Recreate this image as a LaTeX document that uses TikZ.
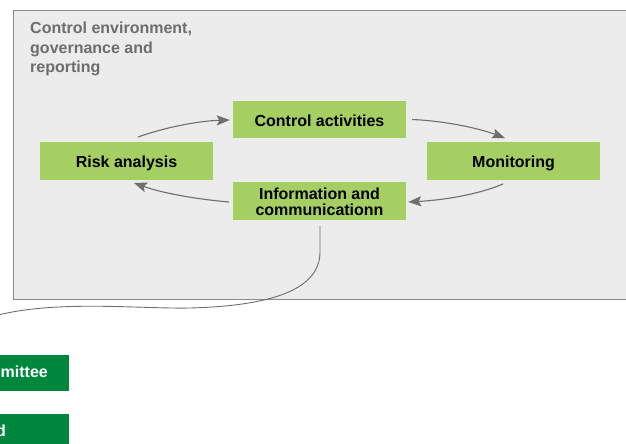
\documentclass[tikz,border=0pt]{standalone}
\usepackage{fontspec}
\setmainfont{Liberation Sans}
\usetikzlibrary{arrows.meta}
\definecolor{lgreen}{HTML}{A5CF63}
\definecolor{dgreen}{HTML}{00873E}
\definecolor{bggray}{HTML}{ECECEC}
\definecolor{bordergray}{HTML}{8A8A8A}
\definecolor{arrowgray}{HTML}{6E6E73}
\definecolor{titlegray}{HTML}{6D6D6D}
\tikzset{
  greenbox/.style={fill=lgreen, draw=none, minimum width=173pt, minimum height=37.5pt,
    inner sep=0pt, align=center, font=\fontsize{16}{15}\selectfont\bfseries, text=black},
  onelinetext/.style={text height=13pt, text depth=0pt},
  boxtext/.style={inner sep=0pt, align=center, font=\fontsize{16}{16}\selectfont\bfseries, text=black},
  titletext/.style={inner sep=0pt, font=\fontsize{16}{19}\selectfont\bfseries, text=titlegray},
  whitetext/.style={inner sep=0pt, font=\fontsize{16}{19}\selectfont\bfseries, text=white},
  cyclearrow/.style={draw=arrowgray, line width=1.1pt,
    -{Stealth[length=13pt,width=10pt,inset=2.5pt]}},
  linkline/.style={draw=arrowgray, line width=0.9pt}
}
\begin{document}
\begin{tikzpicture}[x=1pt,y=-1pt]
\useasboundingbox (0,0) rectangle (626,444);
\clip (0,0) rectangle (626,444);
% background panel
\draw[fill=bggray, draw=bordergray, line width=1pt] (13,11) rectangle (640,299);
% title
\node[titletext, anchor=base west] (t1) at (30,34) {Control environment,};
\node[titletext, anchor=base west] (t2) at (30,53) {governance and};
\node[titletext, anchor=base west] (t3) at (30,72) {reporting};
% cycle boxes
\node[greenbox, onelinetext] (ctrl) at (319.5,119.5) {Control activities};
\node[greenbox, onelinetext] (risk) at (126.5,161) {Risk analysis};
\node[greenbox, onelinetext] (mon) at (513.5,161) {Monitoring};
\node[greenbox] (info) at (319.5,201) {};
\node[boxtext, anchor=base] (infot) at (319.5,215.8) {Information and\\communicationn};
% arrows
\draw[cyclearrow] ([shift={(11.5,-5)}]risk.north) .. controls (160,129) and (195,121) .. ([shift={(-3,0.5)}]ctrl.west);
\draw[cyclearrow] ([shift={(6,0)}]ctrl.east) .. controls (445,121) and (478,128) .. ([shift={(-8.5,-4)}]mon.north);
\draw[cyclearrow] ([shift={(-10.5,4)}]mon.south) .. controls (480,194) and (445,200) .. ([shift={(2,1)}]info.east);
\draw[cyclearrow] ([shift={(-4,1)}]info.west) .. controls (195,199) and (162,193) .. ([shift={(7.5,3)}]risk.south);
% link curve
\coordinate (lend) at (-2,315);
\draw[linkline] ([shift={(0.5,6)}]info.south) -- (320,252)
  .. controls (320,292) and (265,306) .. (190,308)
  .. controls (140,309) and (60,300) .. (lend);
% bottom boxes (clipped)
\node[fill=dgreen, minimum width=80pt, minimum height=36pt, inner sep=0pt, anchor=north east] (b1) at (69,355) {};
\node[fill=dgreen, minimum width=80pt, minimum height=36pt, inner sep=0pt, anchor=north east] (b2) at (69,414) {};
\node[whitetext, anchor=base east] (b1t) at (48,377.5) {mittee};
\node[whitetext, anchor=base east] (b2t) at (6.2,436.5) {d};
\end{tikzpicture}
\end{document}
